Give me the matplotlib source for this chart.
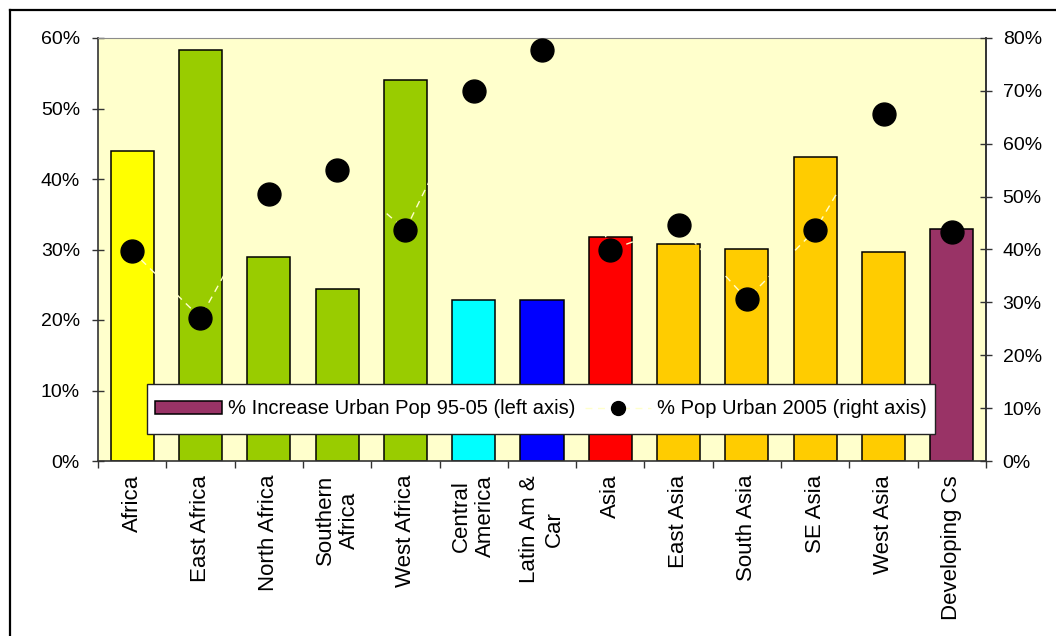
import matplotlib
matplotlib.use("Agg")
import matplotlib.pyplot as plt
from matplotlib.lines import Line2D
from matplotlib.patches import Patch
from matplotlib.path import Path
from matplotlib.ticker import FuncFormatter, FixedLocator, NullFormatter

plt.rcParams['font.family'] = ['Liberation Sans', 'DejaVu Sans']

regions = ["Africa", "East Africa", "North Africa", "Southern\nAfrica", "West Africa",
           "Central\nAmerica", "Latin Am &\nCar", "Asia", "East Asia", "South Asia",
           "SE Asia", "West Asia", "Developing Cs"]
urban_increase = [44.0, 58.3, 29.0, 24.4, 54.0, 22.8, 22.8, 31.8, 30.8, 30.1, 43.1, 29.6, 32.9]
urban_share_2005 = [39.7, 27.1, 50.5, 55.0, 43.7, 70.0, 77.7, 39.9, 44.6, 30.6, 43.7, 65.6, 43.4]
bar_colors = ["#FFFF00", "#99CC00", "#99CC00", "#99CC00", "#99CC00", "#00FFFF", "#0000FF",
              "#FF0000", "#FFCC00", "#FFCC00", "#FFCC00", "#FFCC00", "#993366"]
left_ticks = [0, 10, 20, 30, 40, 50, 60]
right_ticks = [0, 10, 20, 30, 40, 50, 60, 70, 80]

W, H = 1056, 636
fig = plt.figure(figsize=(W / 100, H / 100), dpi=100)
fig.patch.set_facecolor("white")

x0, x1, ytop, ybot = 98, 986, 38, 461
ax = fig.add_axes([x0 / W, 1 - ybot / H, (x1 - x0) / W, (ybot - ytop) / H])
ax.set_facecolor("#FFFFCC")

pos = list(range(len(regions)))
ax.bar(pos, urban_increase, width=0.63, color=bar_colors, edgecolor="black",
       linewidth=1.1, zorder=2)
ax.set_xlim(-0.5, len(regions) - 0.5)
ax.set_ylim(0, 60)
ax.set_yticks(left_ticks)
ax.yaxis.set_major_formatter(FuncFormatter(lambda v, p: f"{v:.0f}%"))

# category boundaries carry the tick marks, centres carry the labels
ax.xaxis.set_major_locator(FixedLocator([p - 0.5 for p in range(len(regions) + 1)]))
ax.xaxis.set_major_formatter(NullFormatter())
ax.xaxis.set_minor_locator(FixedLocator(pos))
ax.set_xticklabels(regions, minor=True, rotation=90, ha="center", va="top",
                   fontsize=16, color="black")
ax.tick_params(axis="x", which="major", direction="out", length=5, width=1, color="#333333")
ax.tick_params(axis="x", which="minor", length=0, pad=10)
ax.tick_params(axis="y", direction="inout", length=9, width=1, color="#333333",
               labelsize=14, pad=8.5)

for side in ("left", "bottom", "right"):
    ax.spines[side].set_color("#333333")
    ax.spines[side].set_linewidth(1.2)
ax.spines["top"].set_color("#8C8C8C")
ax.spines["top"].set_linewidth(0.8)

ax2 = ax.twinx()
ax2.set_ylim(0, 80)
ax2.set_yticks(right_ticks)
ax2.yaxis.set_major_formatter(FuncFormatter(lambda v, p: f"{v:.0f}%"))
ax2.tick_params(axis="y", direction="inout", length=9, width=1, color="#333333",
                labelsize=14, pad=7.5)
ax2.spines["right"].set_color("#333333")
ax2.spines["right"].set_linewidth(1.2)
ax2.spines["top"].set_visible(False)
ax2.spines["left"].set_visible(False)
ax2.spines["bottom"].set_visible(False)

line_color = "#FFFFCC"
ax2.plot(pos, urban_share_2005, color=line_color, linewidth=1, dashes=(5, 4),
         marker="o", markersize=16.5, markerfacecolor="black", markeredgecolor="black",
         zorder=3)

handles = [
    Patch(facecolor="#993366", edgecolor="black", linewidth=1.1),
    Line2D([], [], color=line_color, linewidth=1, dashes=(5, 4), marker="o",
           markersize=10, markerfacecolor="black", markeredgecolor="black"),
]
labels = ["% Increase Urban Pop 95-05 (left axis)", "% Pop Urban 2005 (right axis)"]
lx0 = (147 - x0) / (x1 - x0)
lx1 = (935 - x0) / (x1 - x0)
ly0 = (ybot - 433) / (ybot - ytop)
ly1 = (ybot - 385) / (ybot - ytop)
leg = ax2.legend(handles, labels, ncol=2, loc="center", mode="expand",
                 bbox_to_anchor=(lx0, ly0, lx1 - lx0, ly1 - ly0),
                 fontsize=14.5, frameon=True, fancybox=False, framealpha=1,
                 facecolor="white", edgecolor="#222222", borderpad=0.4,
                 handlelength=3.3, handleheight=0.62, handletextpad=0.3,
                 columnspacing=0.4, borderaxespad=0)


def tall_square(bx, by, bw, bh, mutation_size):
    # square frame with extra room above and below the entries
    dy = 0.38 * mutation_size
    return Path([(bx, by - dy), (bx + bw, by - dy), (bx + bw, by + bh + dy),
                 (bx, by + bh + dy), (bx, by - dy)], closed=True)


leg.get_frame().set_boxstyle(tall_square)
leg.get_frame().set_linewidth(1)
leg.set_zorder(5)

# chart frame (right and bottom edges fall outside the canvas)
fig.add_artist(Line2D([9.5 / W, 1.0], [1 - 9.5 / H, 1 - 9.5 / H],
                      transform=fig.transFigure, color="black", linewidth=1.6))
fig.add_artist(Line2D([9.5 / W, 9.5 / W], [0.0, 1 - 9.5 / H],
                      transform=fig.transFigure, color="black", linewidth=1.6))

fig.savefig("out.png", dpi=100)
